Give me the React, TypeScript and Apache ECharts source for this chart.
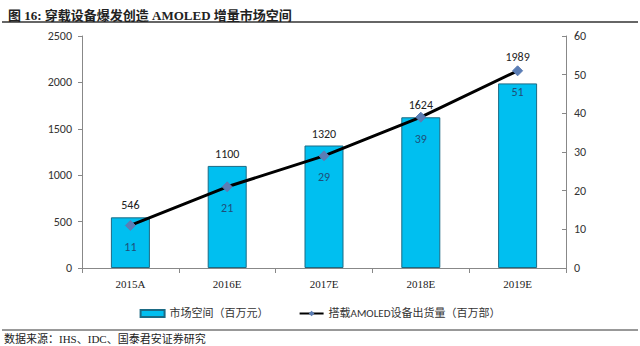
import React, { useEffect, useRef } from "react";
import * as echarts from "echarts";

const titleText = "图 16: 穿载设备爆发创造 AMOLED 增量市场空间";
const sourceText = "数据来源：IHS、IDC、国泰君安证券研究";
const categories = ["2015A", "2016E", "2017E", "2018E", "2019E"];
const marketSize = [546, 1100, 1320, 1624, 1989];
const shipments = [11, 21, 29, 39, 51];
const barName = "市场空间（百万元）";
const lineName = "搭载AMOLED设备出货量（百万部）";

export default function App() {
  const ref = useRef<HTMLDivElement>(null);
  useEffect(() => {
    if (!ref.current) return;
    const chart = echarts.init(ref.current, null, { renderer: "svg" });
    const sansCJK = "Calibri, 'Liberation Sans', 'Noto Sans CJK SC', sans-serif";
    const serifCJK = "'Liberation Serif', 'Noto Sans CJK SC', serif";
    chart.setOption({
      animation: false,
      backgroundColor: "#ffffff",
      title: {
        text: titleText,
        left: 3,
        top: 4,
        textStyle: { fontFamily: serifCJK, fontSize: 13, fontWeight: "bold", color: "#222" },
      },
      graphic: [
        { type: "line", shape: { x1: 2, y1: 22, x2: 638, y2: 22 }, style: { stroke: "#333", lineWidth: 1.5 } },
        { type: "line", shape: { x1: 2, y1: 330, x2: 638, y2: 330 }, style: { stroke: "#333", lineWidth: 1 } },
        {
          type: "text",
          left: 4,
          top: 333,
          style: { text: sourceText, font: "11px " + serifCJK, fill: "#222" },
        },
      ],
      legend: {
        top: 303,
        left: "center",
        itemGap: 30,
        itemWidth: 24,
        itemHeight: 7,
        textStyle: { fontFamily: sansCJK, fontSize: 11, color: "#333" },
        data: [
          { name: barName, icon: "rect" },
          { name: lineName },
        ],
      },
      grid: { left: 82, right: 74, top: 36, bottom: 78 },
      xAxis: {
        type: "category",
        data: categories,
        axisLine: { lineStyle: { color: "#888" } },
        axisTick: { show: true, alignWithLabel: false, length: 5, lineStyle: { color: "#888" } },
        axisLabel: { fontFamily: "'Liberation Serif', serif", fontSize: 11, color: "#222", margin: 10 },
      },
      yAxis: [
        {
          type: "value",
          min: 0,
          max: 2500,
          interval: 500,
          splitLine: { show: false },
          axisLine: { show: true, lineStyle: { color: "#888" } },
          axisTick: { show: true, length: 4, lineStyle: { color: "#888" } },
          axisLabel: {
            fontFamily: sansCJK,
            fontSize: 12,
            color: "#333",
            margin: 10,
            formatter: (v: number) => String(v),
          },
        },
        {
          type: "value",
          min: 0,
          max: 60,
          interval: 10,
          position: "right",
          splitLine: { show: false },
          axisLine: { show: true, lineStyle: { color: "#888" } },
          axisTick: { show: true, length: 4, inside: true, lineStyle: { color: "#888" } },
          axisLabel: { fontFamily: sansCJK, fontSize: 12, color: "#333", margin: 8 },
        },
      ],
      series: [
        {
          name: barName,
          type: "bar",
          yAxisIndex: 0,
          barWidth: 39,
          data: marketSize.map((v, i) => ({
            value: v,
            label: i === marketSize.length - 1 ? { distance: 20 } : undefined,
          })),
          itemStyle: { color: "#00BFF0", borderColor: "#1B6A84", borderWidth: 1 },
          label: {
            show: true,
            position: "top",
            distance: 6,
            fontFamily: sansCJK,
            fontSize: 12,
            color: "#222",
          },
        },
        {
          name: lineName,
          type: "line",
          yAxisIndex: 1,
          data: shipments,
          symbol: "diamond",
          symbolSize: 10,
          lineStyle: { color: "#000", width: 3 },
          itemStyle: { color: "#5B7DB5", borderColor: "#5B7DB5" },
          label: {
            show: true,
            position: "bottom",
            distance: 10,
            fontFamily: sansCJK,
            fontSize: 12,
            color: "#1F4E79",
          },
          z: 3,
        },
      ],
    });
    return () => chart.dispose();
  }, []);
  return (
    <div
      ref={ref}
      style={{ position: "fixed", left: 0, top: 0, width: 640, height: 346, background: "#fff" }}
    />
  );
}
